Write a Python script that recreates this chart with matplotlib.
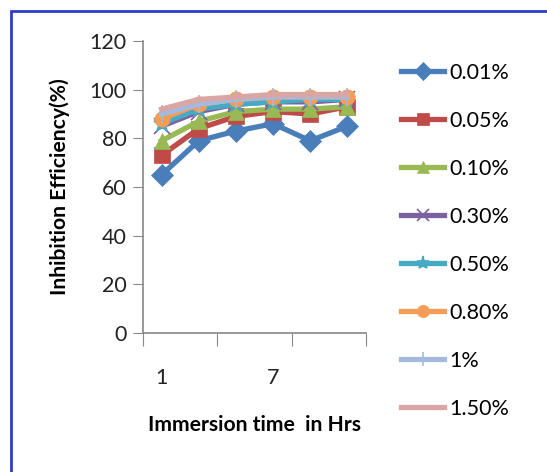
import numpy as np
import matplotlib.pyplot as plt
from matplotlib.patches import Rectangle

# donnees
hours = [1, 3, 5, 7, 9, 11]
labels = ['0.01%', '0.05%', '0.10%', '0.30%', '0.50%', '0.80%', '1%', '1.50%']
ie_001 = [65, 79, 83, 86, 79, 85]
ie_005 = [73, 84, 89, 91, 90, 93]
ie_010 = [79, 87, 91, 92, 92, 93]
ie_030 = [85, 91, 94, 95, 95, 96]
ie_050 = [86, 92, 94, 95, 96, 96]
ie_080 = [88, 94, 96, 97, 97, 97]
ie_1 = [90, 94, 96, 97, 97, 97]
ie_150 = [92, 96, 97, 98, 98, 98]
series = [ie_001, ie_005, ie_010, ie_030, ie_050, ie_080, ie_1, ie_150]

colors = ['#4a7ebb', '#be4b48', '#98b954', '#7d60a0', '#46aac5', '#f59d56', '#a5b9dd', '#dba5a3']
markers = ['D', 's', '^', 'x', '*', 'o', '|', None]
msizes = [11, 11, 11, 11, 12, 11, 13, 0]

plt.rcParams['font.family'] = ['Lato', 'DejaVu Sans']

fig = plt.figure(figsize=(5.47, 4.72), dpi=100)
ax = fig.add_axes([0.2614, 0.2945, 0.4077, 0.6186])

x = np.arange(len(hours))
for vals, lab, c, m, ms in zip(series, labels, colors, markers, msizes):
    ax.plot(x, vals, color=c, lw=3.8, marker=m, markersize=ms, label=lab,
            markeredgewidth=1.2 if m in ('x', '*', '|') else 0.5, markeredgecolor=c)

ax.set_xlim(-0.5, 5.5)
ax.set_ylim(0, 120)
ax.set_yticks(np.arange(0, 121, 20))
ax.set_xticks([-0.5, 1.5, 3.5, 5.5])
ax.set_xticklabels([])
ax.set_xticks([0, 3], minor=True)
ax.set_xticklabels([str(hours[0]), str(hours[3])], minor=True)
ax.tick_params(axis='x', which='minor', length=0, pad=25, labelsize=15.5, colors='#222222')
ax.tick_params(axis='x', which='major', length=9, color='#888888', direction='out')
ax.tick_params(axis='y', length=7, labelsize=15.5, colors='#222222', pad=5)
ax.tick_params(axis='y', color='#888888')

for s in ['top', 'right']:
    ax.spines[s].set_visible(False)
for s in ['left', 'bottom']:
    ax.spines[s].set_color('#888888')
    ax.spines[s].set_linewidth(1.2)

ax.set_ylabel('Inhibition Efficiency(%)', fontsize=15.2, fontweight='bold', labelpad=14)
ax.set_xlabel('Immersion time  in Hrs', fontsize=15.2, fontweight='bold', labelpad=20)

ax.legend(loc='upper left', bbox_to_anchor=(0.718, 0.885), bbox_transform=fig.transFigure,
          frameon=False, fontsize=15.5, handlelength=2.0, handletextpad=0.25,
          labelspacing=1.3, borderaxespad=0, markerscale=0.8)

# cadre bleu autour du graphique
fig.patches.append(Rectangle((11 / 547, -0.01), 1.0, 1 - 11 / 472 + 0.01,
                             transform=fig.transFigure, fill=False,
                             edgecolor='#2a3fc4', lw=2))

plt.savefig('out.png', dpi=100)
